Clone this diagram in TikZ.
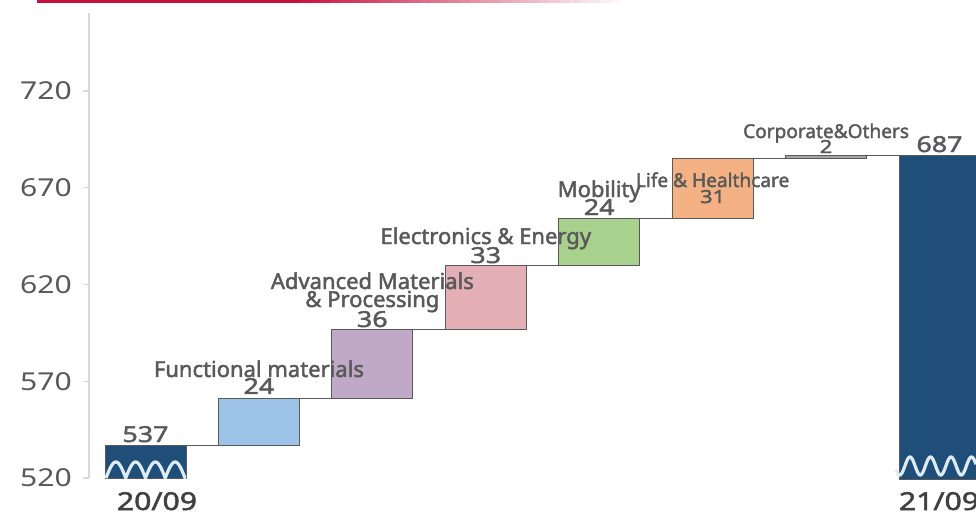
\documentclass[tikz,border=0pt]{standalone}
\usepackage{fontspec}
\setmainfont{Noto Sans}
\newfontfamily\labelfont{Noto Sans}[FakeBold=2]
\newfontfamily\numfont{Noto Sans}[FakeBold=2, FakeStretch=1.22]
\newfontfamily\tickfont{Noto Sans}[FakeStretch=1.22]
\usetikzlibrary{positioning}

\definecolor{txtgray}{HTML}{595959}
\definecolor{dategray}{HTML}{404040}
\definecolor{axisgray}{HTML}{D9D9D9}
\definecolor{navy}{HTML}{1F4E79}
\definecolor{skyblue}{HTML}{9DC3E6}
\definecolor{lilac}{HTML}{BFA9C7}
\definecolor{rose}{HTML}{E4AFB5}
\definecolor{leaf}{HTML}{A9D18E}
\definecolor{peach}{HTML}{F4B183}
\definecolor{midgray}{HTML}{A6A6A6}
\definecolor{wavecol}{HTML}{DDEBF7}
\definecolor{brandred}{HTML}{C8103E}

\begin{document}
\begin{tikzpicture}[
    x=0.75pt, y=-0.75pt,
    % Define styles
    bar/.style={rectangle, draw=txtgray, line width=0.6pt, inner sep=0pt, outer sep=0pt, minimum width=60.75pt, anchor=south west},
    link/.style={draw=txtgray, line width=0.6pt},
    val/.style={font=\numfont\fontsize{16.5}{18}\selectfont, text=txtgray, inner sep=0pt, anchor=base},
    smallval/.style={font=\numfont\fontsize{13.5}{15}\selectfont, text=txtgray, inner sep=0pt, anchor=base},
    cat/.style={font=\labelfont\fontsize{16.5}{18}\selectfont, text=txtgray, inner sep=0pt, anchor=base},
    smallcat/.style={font=\labelfont\fontsize{14.3}{15}\selectfont, text=txtgray, inner sep=0pt, anchor=base},
    ticklbl/.style={font=\tickfont\fontsize{18.5}{20}\selectfont, text=txtgray, inner sep=0pt, anchor=east},
    datelbl/.style={font=\numfont\fontsize{18.5}{20}\selectfont, text=dategray, inner sep=0pt, anchor=base},
    axisline/.style={draw=axisgray, line width=1.5pt},
    wave/.style={draw=wavecol, line width=2.4pt}
  ]

  \useasboundingbox (0,0) rectangle (976,515);
  \clip (0,0) rectangle (976,515);

  % Top rule
  \fill[brandred] (37,0) rectangle (290,3);
  \foreach \i in {0,...,33} {
    \fill[brandred!\fpeval{100-3*\i}!white] ({290+10*\i},0) rectangle ({300.5+10*\i},3);
  }

  % Axis
  \draw[axisline] (89,13) -- (89,478);
  \foreach \v/\y in {520/478, 570/381.3, 620/284.5, 670/187.8, 720/91} {
    \draw[draw=axisgray, line width=0.8pt] (83,\y) -- (89,\y);
    \node[ticklbl] (tick\v) at (72,\y) {\v};
  }

  % Bars
  \node[bar, fill=navy, minimum height=24.75pt] (start) at (105,478) {};
  \node[bar, fill=skyblue, minimum height=34.875pt] (functional) at ([xshift=24.32pt]start.north east) {};
  \node[bar, fill=lilac, minimum height=52.125pt] (advanced) at ([xshift=24.32pt]functional.north east) {};
  \node[bar, fill=rose, minimum height=48pt] (electronics) at ([xshift=24.32pt]advanced.north east) {};
  \node[bar, fill=leaf, minimum height=35.25pt] (mobility) at ([xshift=24.32pt]electronics.north east) {};
  \node[bar, fill=peach, minimum height=45pt] (life) at ([xshift=24.32pt]mobility.north east) {};
  \node[bar, fill=midgray, minimum height=2.25pt] (corporate) at ([xshift=24.32pt]life.north east) {};
  \node[bar, fill=navy, minimum height=243pt] (finish) at (899,479) {};

  % Connectors
  \draw[link] (start.north east) -- (functional.south west);
  \draw[link] (functional.north east) -- (advanced.south west);
  \draw[link] (advanced.north east) -- (electronics.south west);
  \draw[link] (electronics.north east) -- (mobility.south west);
  \draw[link] (mobility.north east) -- (life.south west);
  \draw[link] (life.north east) -- (corporate.south west);
  \draw[link] (corporate.north east) -- (finish.north west);

  % Axis break waves
  \begin{scope}
    \clip (start.south west) rectangle (start.north east);
    \draw[wave] plot[domain=106:186, samples=240] (\x, {478-16*abs(sin(9.114*(\x-106)))});
  \end{scope}
  \draw[wave] plot[domain=896:976, samples=200] (\x, {466-9*cos(17.56*(\x-910))});

  % Values and labels
  \node[val] (startval) at ([yshift=2.25pt]start.north) {537};
  \node[val] (functionalval) at ([yshift=3.4pt]functional.north) {24};
  \node[cat] (functionallbl) at ([yshift=12.75pt]functionalval.base) {Functional materials};
  \node[val] (advancedval) at ([yshift=1.5pt]advanced.north) {36};
  \node[cat] (advancedlblb) at ([yshift=15pt]advancedval.base) {\& Processing};
  \node[cat] (advancedlbla) at ([yshift=13.5pt]advancedlblb.base) {Advanced Materials};
  \node[val] (electronicsval) at ([yshift=1.5pt]electronics.north) {33};
  \node[cat] (electronicslbl) at ([yshift=14.25pt]electronicsval.base) {Electronics \& Energy};
  \node[val] (mobilityval) at ([yshift=2.25pt]mobility.north) {24};
  \node[cat] (mobilitylbl) at ([yshift=13.5pt]mobilityval.base) {Mobility};
  \node[smallval] (lifeval) at ([yshift=-33.75pt]life.north) {31};
  \node[smallcat] (lifelbl) at ([yshift=12pt]lifeval.base) {Life \& Healthcare};
  \node[smallval] (corporateval) at ([yshift=1.5pt]corporate.north) {2};
  \node[smallcat] (corporatelbl) at ([yshift=11.25pt]corporateval.base) {Corporate\&Others};
  \node[val] (finishval) at ([yshift=2.25pt]finish.north) {687};

  % Periods
  \node[datelbl] (startdate) at (157,510) {20/09};
  \node[datelbl] (finishdate) at (939,510) {21/09};

\end{tikzpicture}
\end{document}
